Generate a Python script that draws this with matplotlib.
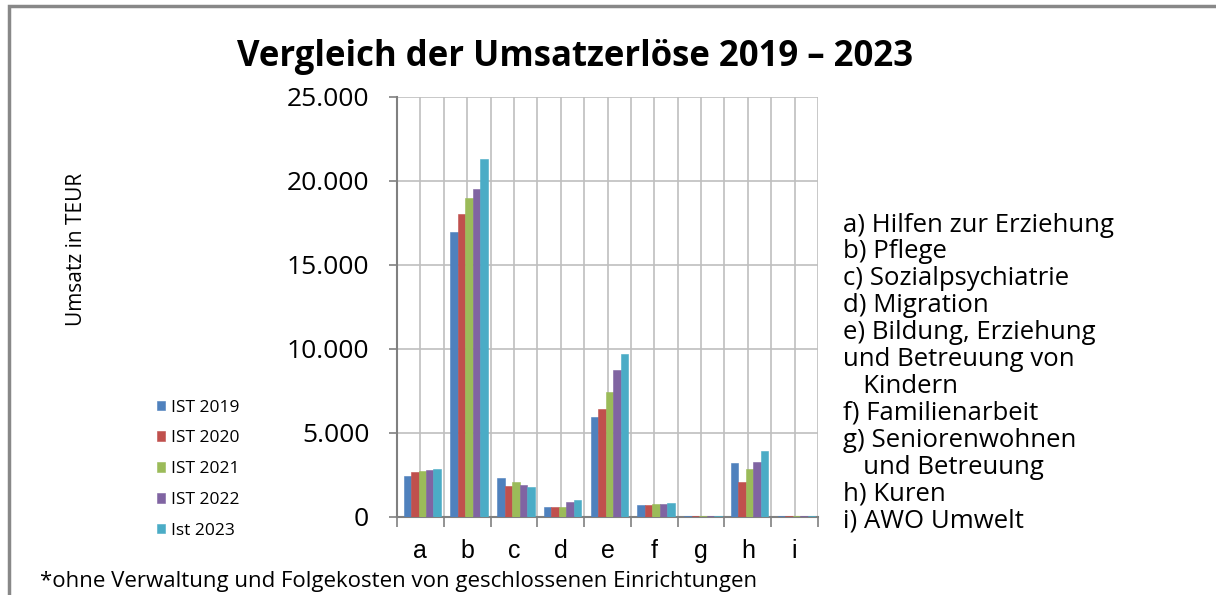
import matplotlib.pyplot as plt
import numpy as np
from matplotlib.patches import Rectangle

plt.rcParams["font.family"] = ["Open Sans", "DejaVu Sans"]

# Daten (Umsatz in TEUR)
categories = ["a", "b", "c", "d", "e", "f", "g", "h", "i"]
series_labels = ["IST 2019", "IST 2020", "IST 2021", "IST 2022", "Ist 2023"]
ist_2019 = [2450, 16950, 2350, 580, 5950, 740, 60, 3200, 60]
ist_2020 = [2670, 18050, 1830, 580, 6450, 720, 60, 2060, 60]
ist_2021 = [2720, 18980, 2080, 580, 7420, 790, 60, 2850, 60]
ist_2022 = [2770, 19530, 1880, 870, 8750, 790, 60, 3270, 60]
ist_2023 = [2850, 21320, 1760, 990, 9700, 810, 60, 3950, 60]
colors = ["#4F81BD", "#C0504D", "#9BBB59", "#8064A2", "#4BACC6"]

bereiche = [
    "a) Hilfen zur Erziehung",
    "b) Pflege",
    "c) Sozialpsychiatrie",
    "d) Migration",
    "e) Bildung, Erziehung",
    "und Betreuung von",
    "   Kindern",
    "f) Familienarbeit",
    "g) Seniorenwohnen",
    "   und Betreuung",
    "h) Kuren",
    "i) AWO Umwelt",
]

fig = plt.figure(figsize=(12.16, 5.95), dpi=100)

# Rahmen oben und links
fig.add_artist(Rectangle((9 / 1216, -0.1), 1.2, 1 - 6 / 595 + 0.1, transform=fig.transFigure,
                         fill=False, edgecolor="#888888", linewidth=2.5))

ax = fig.add_axes([397 / 1216, 1 - 517 / 595, 421 / 1216, 420 / 595])

x = np.arange(len(categories))
all_series = [ist_2019, ist_2020, ist_2021, ist_2022, ist_2023]
width = 0.16
bars = []
for i, (vals, col, lab) in enumerate(zip(all_series, colors, series_labels)):
    b = ax.bar(x + (i - 2) * width + 0.04, vals, width, color=col, label=lab,
               edgecolor=col, linewidth=0.4, zorder=3)
    bars.append(b)

ax.set_xlim(-0.5, len(categories) - 0.5)
ax.set_ylim(0, 25000)
ax.set_yticks(np.arange(0, 25001, 5000))
ax.set_yticklabels(["0", "5.000", "10.000", "15.000", "20.000", "25.000"], fontsize=19)

# Gitter: horizontal alle 5000, vertikal an Kategoriegrenzen und -mitten
for yv in np.arange(5000, 25001, 5000):
    ax.axhline(yv, color="#bfbfbf", linewidth=1.2, zorder=1)
for xv in np.arange(-0.5, len(categories) - 0.4, 0.5):
    ax.axvline(xv, color="#bfbfbf", linewidth=1.2, zorder=1)

ax.set_xticks(x)
ax.set_xticklabels(categories, fontsize=18, family=["Liberation Sans", "DejaVu Sans"])
ax.set_xticks(np.arange(-0.5, len(categories), 1), minor=True)
ax.tick_params(axis="x", which="major", length=0, pad=16)
ax.tick_params(axis="x", which="minor", length=7, color="#808080", width=1.2)
ax.tick_params(axis="y", length=6, color="#808080", width=1.2, pad=14)

for side in ["top", "right"]:
    ax.spines[side].set_visible(False)
for side in ["left", "bottom"]:
    ax.spines[side].set_color("#808080")
    ax.spines[side].set_linewidth(1.5)

fig.text(575 / 1216, 1 - 57 / 595, "Vergleich der Umsatzerlöse 2019 – 2023",
         ha="center", va="center", fontsize=25, fontweight="bold")

fig.text(76 / 1216, 1 - 249 / 595, "Umsatz in TEUR", rotation=90,
         ha="center", va="center", fontsize=15)

fig.legend(handles=bars, labels=series_labels, loc="upper left",
           bbox_to_anchor=(141 / 1216, 1 - 384 / 595), frameon=False,
           fontsize=12.5, handlelength=0.5, handleheight=0.5, handletextpad=0.3,
           labelspacing=0.85)

line_h = 26.9
for k, txt in enumerate(bereiche):
    fig.text(843 / 1216, 1 - (225 + k * line_h) / 595, txt,
             ha="left", va="center", fontsize=18.5)

fig.text(40 / 1216, 1 - 582 / 595,
         "*ohne Verwaltung und Folgekosten von geschlossenen Einrichtungen",
         ha="left", va="center", fontsize=16)

fig.savefig("out.png", dpi=100)
